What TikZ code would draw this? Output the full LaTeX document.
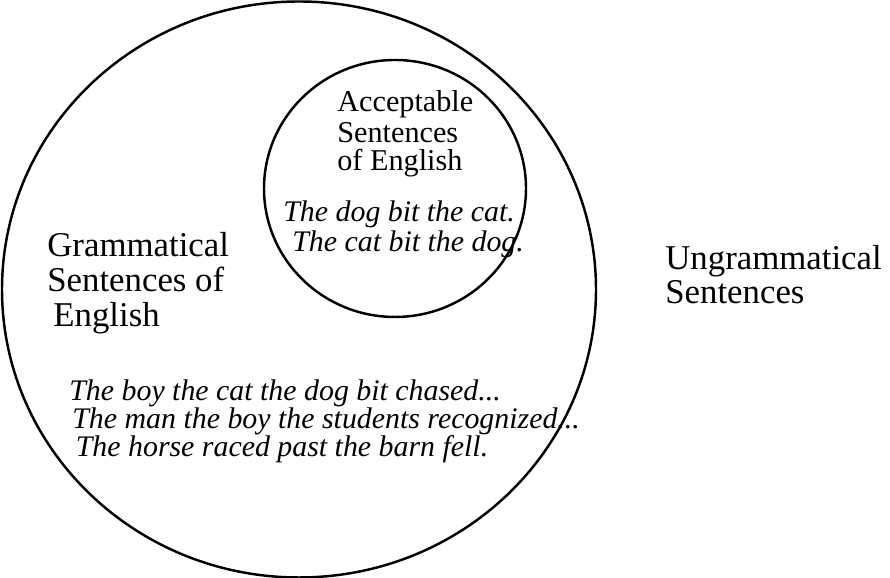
\documentclass[tikz,border=0pt]{standalone}
\usepackage{fontspec}
\setmainfont{Liberation Serif}
\usepackage{tikz}

\tikzset{
  setline/.style={line width=1.4pt},
  biglabel/.style={anchor=base west, inner sep=0pt, font=\fontsize{19.8}{20}\selectfont},
  smalllabel/.style={anchor=base west, inner sep=0pt, font=\fontsize{17.2}{18}\selectfont},
  example/.style={anchor=base west, inner sep=0pt, font=\fontsize{17}{18}\selectfont\itshape}
}

\begin{document}
\begin{tikzpicture}

\useasboundingbox (0,0) rectangle (17.8,11.56);

% Draw Grammatical set

\draw[setline] (5.98,5.77) ellipse [x radius=5.94, y radius=5.76];

% Draw Acceptable set

\draw[setline] (7.9,7.79) ellipse [x radius=2.62, y radius=2.57];

% Draw Labels of Acceptable set

\node [smalllabel] (acc1) at (6.74,9.32) {Acceptable};

\node [smalllabel] (acc2) at (6.74,8.70) {Sentences};

\node [smalllabel] (acc3) at (6.74,8.14) {of English};

\node [example] (accex1) at (5.66,7.12) {The dog bit the cat.};

\node [example] (accex2) at (5.84,6.52) {The cat bit the dog.};

% Draw Labels of Grammatical set

\node [biglabel] (gram1) at (0.94,6.43) {Grammatical};

\node [biglabel] (gram2) at (0.94,5.72) {Sentences of};

\node [biglabel] (gram3) at (1.06,5.02) {English};

\node [example] (gramex1) at (1.38,3.54) {The boy the cat the dog bit chased...};

\node [example] (gramex2) at (1.44,2.98) {The man the boy the students recognized...};

\node [example] (gramex3) at (1.51,2.42) {The horse raced past the barn fell.};

% Draw Labels of Ungrammatical

\node [biglabel] (ungram1) at (13.3,6.16) {Ungrammatical};

\node [biglabel] (ungram2) at (13.3,5.48) {Sentences};

\end{tikzpicture}
\end{document}
